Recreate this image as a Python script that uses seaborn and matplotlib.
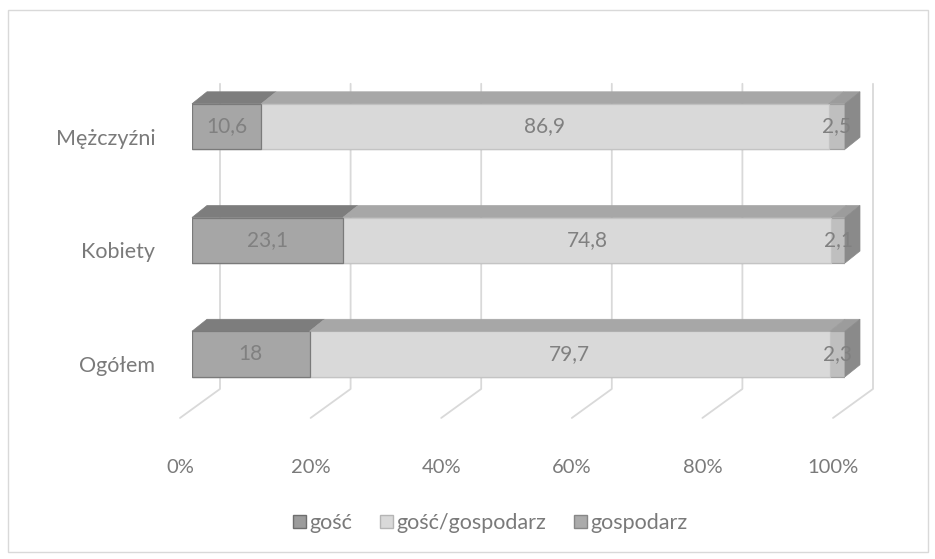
import numpy as np
import pandas as pd
import matplotlib
matplotlib.use("Agg")
import matplotlib.pyplot as plt
import seaborn as sns
from matplotlib.patches import Polygon, Rectangle
from matplotlib.lines import Line2D
from matplotlib.transforms import IdentityTransform, ScaledTranslation

# --- data -------------------------------------------------------------
categories = ["Mężczyźni", "Kobiety", "Ogółem"]
series = ["gość", "gość/gospodarz", "gospodarz"]
gosc = [10.6, 23.1, 18.0]
gosc_gospodarz = [86.9, 74.8, 79.7]
gospodarz = [2.5, 2.1, 2.3]
tick_values = [0, 20, 40, 60, 80, 100]
tick_labels = ["0%", "20%", "40%", "60%", "80%", "100%"]

# --- style ------------------------------------------------------------
front = {"gość": "#a6a6a6", "gość/gospodarz": "#d9d9d9", "gospodarz": "#bfbfbf"}
edge = {"gość": "#7a7a7a", "gość/gospodarz": "#c4c4c4", "gospodarz": "#a0a0a0"}
top = {"gość": "#7d7d7d", "gość/gospodarz": "#a7a7a7", "gospodarz": "#9c9c9c"}
side = "#8a8a8a"
legend_face = {"gość": "#9c9c9c", "gość/gospodarz": "#d9d9d9", "gospodarz": "#ababab"}
legend_edge = {"gość": "#6e6e6e", "gość/gospodarz": "#b5b5b5", "gospodarz": "#878787"}
text_col = "#7a7a7a"
grid_col = "#d9d9d9"

sns.set_style("white")
plt.rcParams["font.family"] = ["Lato", "DejaVu Sans"]

W, H = 935, 559
fig = plt.figure(figsize=(W / 100, H / 100), dpi=100)
ax = fig.add_axes([192 / W, 1 - 430 / H, 653 / W, 360 / H])

df = pd.DataFrame({"kategoria": categories,
                   "gość": gosc,
                   "gość/gospodarz": gosc_gospodarz,
                   "gospodarz": gospodarz})
cum = df[series].cumsum(axis=1)
starts = cum - df[series]

BAR_W = 0.4
# stacked front faces: widest cumulative bar first, narrower ones on top
for name in reversed(series):
    sns.barplot(data=cum, x=name, y=df["kategoria"], order=categories, orient="h",
                color=front[name], saturation=1, width=BAR_W,
                edgecolor=edge[name], linewidth=0.9, ax=ax, zorder=3)

ax.set_xlim(0, 100)
ax.set_ylim(2.668, -0.497)
for s in ax.spines.values():
    s.set_visible(False)
ax.set_xlabel("")
ax.set_ylabel("")

# depth offsets in pixels (display coords)
BACK = (15, 12)     # back edge of bars
WALL = (28, 20)     # back wall
FLOOR = (-12, -9)   # front edge of floor
floor_y = 2.483
wall_top = -0.2


def px(x, y, d=(0, 0)):
    X, Y = ax.transData.transform((x, y))
    return (X + d[0], Y + d[1])


ident = IdentityTransform()

# floor and wall gridlines
for v in tick_values:
    pts = np.array([px(v, floor_y, FLOOR), px(v, floor_y, WALL), px(v, wall_top, WALL)])
    ax.add_line(Line2D(pts[:, 0], pts[:, 1], color=grid_col, lw=1.3,
                       transform=ident, zorder=1, clip_on=False))

# top faces and end caps of the bars
for i, cat in enumerate(categories):
    ytop = i - BAR_W / 2
    ybot = i + BAR_W / 2
    for name in series:
        x0 = starts.loc[i, name]
        x1 = cum.loc[i, name]
        poly = [px(x0, ytop), px(x1, ytop), px(x1, ytop, BACK), px(x0, ytop, BACK)]
        ax.add_patch(Polygon(poly, closed=True, facecolor=top[name],
                             edgecolor=top[name], lw=0.5, transform=ident,
                             zorder=4, clip_on=False))
    xe = cum.loc[i, series[-1]]
    poly = [px(xe, ytop), px(xe, ybot), px(xe, ybot, BACK), px(xe, ytop, BACK)]
    ax.add_patch(Polygon(poly, closed=True, facecolor=side, edgecolor=side, lw=0.5,
                         transform=ident, zorder=4, clip_on=False))

    # value labels on the front faces
    for name in series:
        v = df.loc[i, name]
        xc = starts.loc[i, name] + v / 2
        ax.text(xc, i, f"{v:g}".replace(".", ","), ha="center", va="center",
                fontsize=15, color="#808080", zorder=6)

# axis tick labels
ax.set_xticks(tick_values, tick_labels)
ax.tick_params(axis="both", length=0, labelcolor=text_col)
ax.tick_params(axis="x", pad=21, labelsize=14.5)
ax.tick_params(axis="y", pad=26.5, labelsize=15.5)
for lbl in ax.get_xticklabels():
    lbl.set_transform(lbl.get_transform() + ScaledTranslation(-12 / 100, 0, fig.dpi_scale_trans))
for lbl in ax.get_yticklabels():
    lbl.set_transform(lbl.get_transform() + ScaledTranslation(0, -10 / 100, fig.dpi_scale_trans))

# legend
handles = [Rectangle((0, 0), 1, 1, facecolor=legend_face[n], edgecolor=legend_edge[n], lw=1)
           for n in series]
fig.legend(handles, series, loc="center", bbox_to_anchor=(490 / W, 1 - 523 / H),
           ncol=3, frameon=False, fontsize=15.5, labelcolor=text_col,
           handlelength=0.6, handleheight=0.6, handletextpad=0.15, columnspacing=1.3)

# chart frame
fig.add_artist(Rectangle((8 / W, 1 - 552 / H), 920 / W, 542 / H, transform=fig.transFigure,
                         fill=False, edgecolor="#d9d9d9", lw=1))

fig.savefig("out.png", dpi=100)
